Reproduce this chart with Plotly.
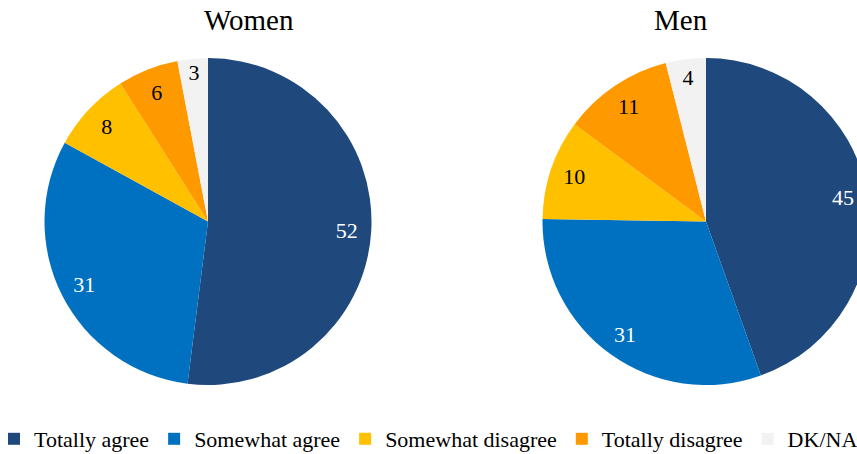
import plotly.graph_objects as go

categories = ["Totally agree", "Somewhat agree", "Somewhat disagree", "Totally disagree", "DK/NA"]
women = [52, 31, 8, 6, 3]
men = [45, 31, 10, 11, 4]
colors = ["#1F497D", "#0070C0", "#FFC000", "#FF9900", "#F2F2F2"]
text_colors = ["#FFFFFF", "#FFFFFF", "#000000", "#000000", "#000000"]

OFF = 0          # body margin is removed in the page (see post_script)
W, H = 920, 454
R = 163.5
CY = 221.5 - OFF


def dom(cx):
    cx = cx - OFF
    return dict(x=[(cx - R) / W, (cx + R) / W], y=[(H - CY - R) / H, (H - CY + R) / H])


FONT = "Liberation Serif"

fig = go.Figure()
for name, vals, cx, show in [("Women", women, 208, True), ("Men", men, 706, False)]:
    # filled slices
    fig.add_trace(go.Pie(
        labels=categories, values=vals, sort=False, direction="clockwise", rotation=0,
        marker=dict(colors=colors, line=dict(width=0)),
        textinfo="none", domain=dom(cx), showlegend=show,
        hoverinfo="label+value", name=name,
    ))
    # transparent ring carrying the value labels near the rim
    fig.add_trace(go.Pie(
        labels=categories, values=vals, sort=False, direction="clockwise", rotation=0,
        hole=0.7,
        marker=dict(colors=["rgba(0,0,0,0)"] * len(vals), line=dict(width=0)),
        textinfo="value", textposition="inside", insidetextorientation="horizontal",
        textfont=dict(family=FONT, size=22, color=text_colors),
        domain=dom(cx), showlegend=False, hoverinfo="skip", name=name + " labels",
    ))

fig.add_annotation(x=(202 - OFF) / W, y=(H - 20 + OFF) / H, xref="paper", yref="paper",
                   text="Women", showarrow=False, yanchor="middle",
                   font=dict(family=FONT, size=29, color="#000"))
fig.add_annotation(x=(710 - OFF) / W, y=(H - 20 + OFF) / H, xref="paper", yref="paper",
                   text="Men", showarrow=False, yanchor="middle",
                   font=dict(family=FONT, size=29, color="#000"))

fig.update_layout(
    width=W, height=H, margin=dict(l=0, r=0, t=0, b=0, autoexpand=False),
    paper_bgcolor="white", plot_bgcolor="white",
    legend=dict(orientation="h", x=-6 / W, y=-6 / H, xanchor="left", yanchor="bottom",
                font=dict(family=FONT, size=22, color="#000"), itemclick=False,
                traceorder="normal"),
)

fig.write_html("out.html", post_script="document.body.style.margin='0';document.body.style.overflow='hidden';")
